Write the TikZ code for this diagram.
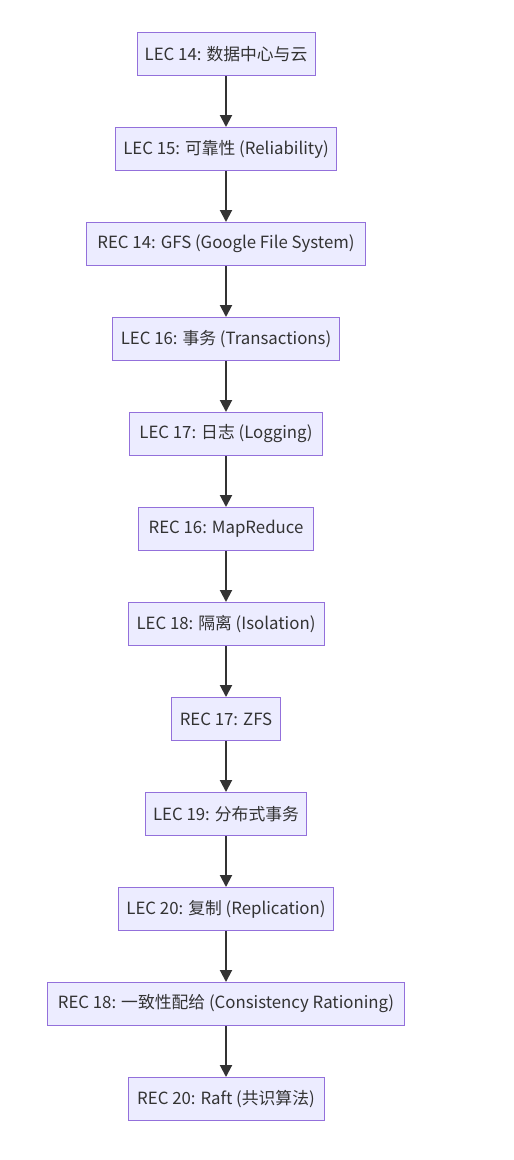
\documentclass[tikz,border=0pt]{standalone}
\usepackage{fontspec}
\setmainfont{Noto Sans CJK SC}
\usetikzlibrary{positioning}
\usetikzlibrary{arrows.meta}
\definecolor{boxfill}{HTML}{ECECFF}
\definecolor{boxline}{HTML}{9370DB}
\definecolor{arrowcol}{HTML}{333333}
\tikzset{
  topic/.style={draw=boxline,fill=boxfill,line width=1pt,minimum height=43pt,inner sep=0pt,text=arrowcol,font=\fontsize{16.8}{20}\selectfont},
  flow/.style={-{Triangle[length=12pt,width=12pt]},draw=arrowcol,line width=2pt}
}

\begin{document}
\begin{tikzpicture}[x=1pt,y=1pt,node distance=51pt]
    \useasboundingbox (0,0) rectangle (514,-1160);
    \node[topic,minimum width=178pt] (L14) at (226,-54) {LEC 14: 数据中心与云};
    \node[topic,minimum width=221pt,below=of L14] (L15) {LEC 15: 可靠性 (Reliability)};
    \node[topic,minimum width=279pt,below=of L15] (R14) {REC 14: GFS (Google File System)};
    \node[topic,minimum width=227pt,below=of R14] (L16) {LEC 16: 事务 (Transactions)};
    \node[topic,minimum width=193pt,below=of L16] (L17) {LEC 17: 日志 (Logging)};
    \node[topic,minimum width=175pt,below=of L17] (R16) {REC 16: MapReduce};
    \node[topic,minimum width=196pt,below=of R16] (L18) {LEC 18: 隔离 (Isolation)};
    \node[topic,minimum width=109pt,below=of L18] (R17) {REC 17: ZFS};
    \node[topic,minimum width=161pt,below=of R17] (L19) {LEC 19: 分布式事务};
    \node[topic,minimum width=215pt,below=of L19] (L20) {LEC 20: 复制 (Replication)};
    \node[topic,minimum width=357pt,below=of L20] (R18) {REC 18: 一致性配给 (Consistency Rationing)};
    \node[topic,minimum width=196pt,below=of R18] (R20) {REC 20: Raft (共识算法)};
    % chain of lectures and recitations
    \foreach \a/\b in {L14/L15,L15/R14,R14/L16,L16/L17,L17/R16,R16/L18,L18/R17,R17/L19,L19/L20,L20/R18,R18/R20}
      \draw[flow] (\a) -- (\b);
\end{tikzpicture}
\end{document}
